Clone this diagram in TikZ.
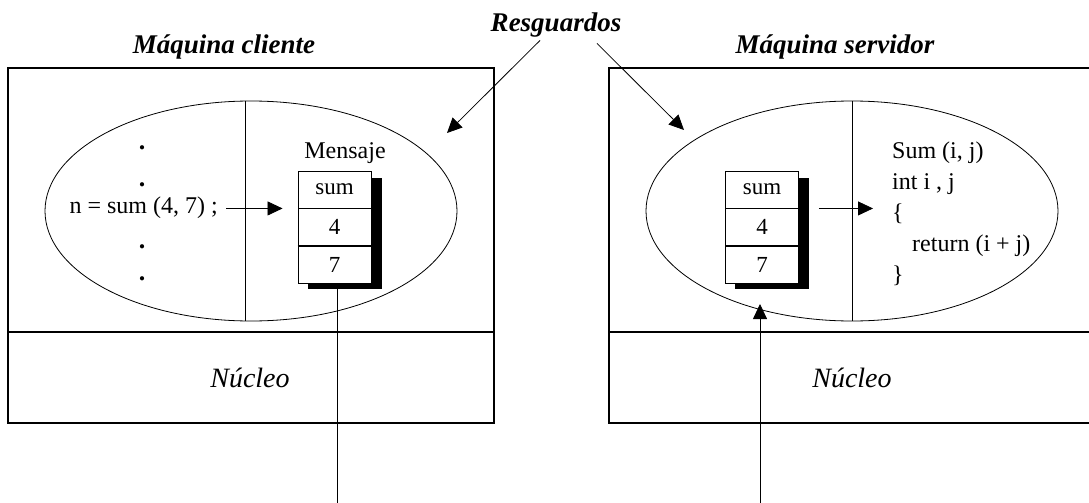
\documentclass[tikz,border=0pt]{standalone}
\usepackage{fontspec}
\setmainfont{Liberation Serif}
\usetikzlibrary{arrows.meta,positioning,calc,shapes.geometric}

\begin{document}
\begin{tikzpicture}[
  x=1pt, y=-1pt,
  arr/.style={-{Triangle[length=15pt, width=14pt]}, line width=0.8pt},
  frame/.style={draw, line width=1.3pt},
  title/.style={font=\fontsize{27}{32}\selectfont\bfseries\itshape, inner sep=0pt},
  kernel/.style={font=\fontsize{28}{33}\selectfont\itshape},
  code/.style={font=\fontsize{24}{31}\selectfont, inner sep=0pt},
  stub/.style={ellipse, draw, line width=0.8pt, minimum width=412pt, minimum height=220pt, inner sep=0pt},
  cell/.style={draw, fill=white, line width=0.9pt, minimum width=73pt, minimum height=37pt, inner sep=0pt, font=\fontsize{23}{28}\selectfont},
  shadowbox/.style={fill=black, minimum width=74pt, minimum height=111pt, inner sep=0pt},
  dot/.style={font=\fontsize{26}{28}\selectfont\bfseries, inner sep=0pt, anchor=base}
]
  \useasboundingbox (0,0) rectangle (1089,503);
  % Machines
  \draw[frame] (8,68) rectangle (494,423);
  \draw[frame] (8,332) -- (494,332);
  \draw[frame] (609,68) rectangle (1095,423);
  \draw[frame] (609,332) -- (1095,332);
  \node[title] (cliT) at (224,47) {Máquina cliente};
  \node[title] (srvT) at (835,47) {Máquina servidor};
  \node[title] (resg) at (556,25) {Resguardos};
  % Stubs
  \node[stub] (stubC) at (251,211) {};
  \node[stub] (stubS) at (852,211) {};
  \draw[line width=0.8pt] ([xshift=-6pt]stubC.north) -- ([xshift=-6pt]stubC.south);
  \draw[line width=0.8pt] (stubS.north) -- (stubS.south);
  % Client side message
  \node[shadowbox] (shC) at (345,233.5) {};
  \node[cell] (c1) at (334.5,189.5) {sum};
  \node[cell, below=0pt of c1] (c2) {4};
  \node[cell, below=0pt of c2] (c3) {7};
  \draw[line width=2pt] (c2.south west) -- (c2.south east);
  \node[code] (msgC) at (345,153) {Mensaje};
  % Server side message
  \node[shadowbox] (shS) at (772,233.5) {};
  \node[cell] (s1) at (762,189.5) {sum};
  \node[cell, below=0pt of s1] (s2) {4};
  \node[cell, below=0pt of s2] (s3) {7};
  \draw[line width=2pt] (s2.south west) -- (s2.south east);
  % Client code
  \node[code, anchor=east] (call) at (218,208) {n = sum (4, 7) ;};
  \foreach \y [count=\i] in {149,186,248,280}
    \node[dot] (d\i) at (142,\y) {.};
  \draw[arr, shorten <=8pt, shorten >=15pt] (call.east |- c1.south west) -- (c1.south west);
  % Server code
  \node[code, align=left, anchor=north west] (body) at (892,142)
    {Sum (i, j)\\int i , j\\\{\\\hspace*{20pt}return (i + j)\\\}};
  \draw[arr, shorten <=20pt, shorten >=19pt] (s1.south east) -- (s1.south east -| body.west);
  % Kernels
  \node[kernel] (kerC) at (250,378) {Núcleo};
  \node[kernel] (kerS) at (852,378) {Núcleo};
  % Resguardos pointers
  \coordinate (tipC) at (447,133);
  \coordinate (tipS) at (684,130);
  \draw[arr] ([xshift=-16pt,yshift=-3pt]resg.south) -- (tipC);
  \draw[arr] ([xshift=41pt,yshift=-6pt]resg.south) -- (tipS);
  % Network
  \coordinate (netC) at (337,510);
  \coordinate (netS) at (760,510);
  \coordinate (inS) at (760,304);
  \draw[line width=0.8pt] ([xshift=-8pt]shC.south) -- (netC);
  \draw[arr] (netS) -- (inS);
\end{tikzpicture}
\end{document}
